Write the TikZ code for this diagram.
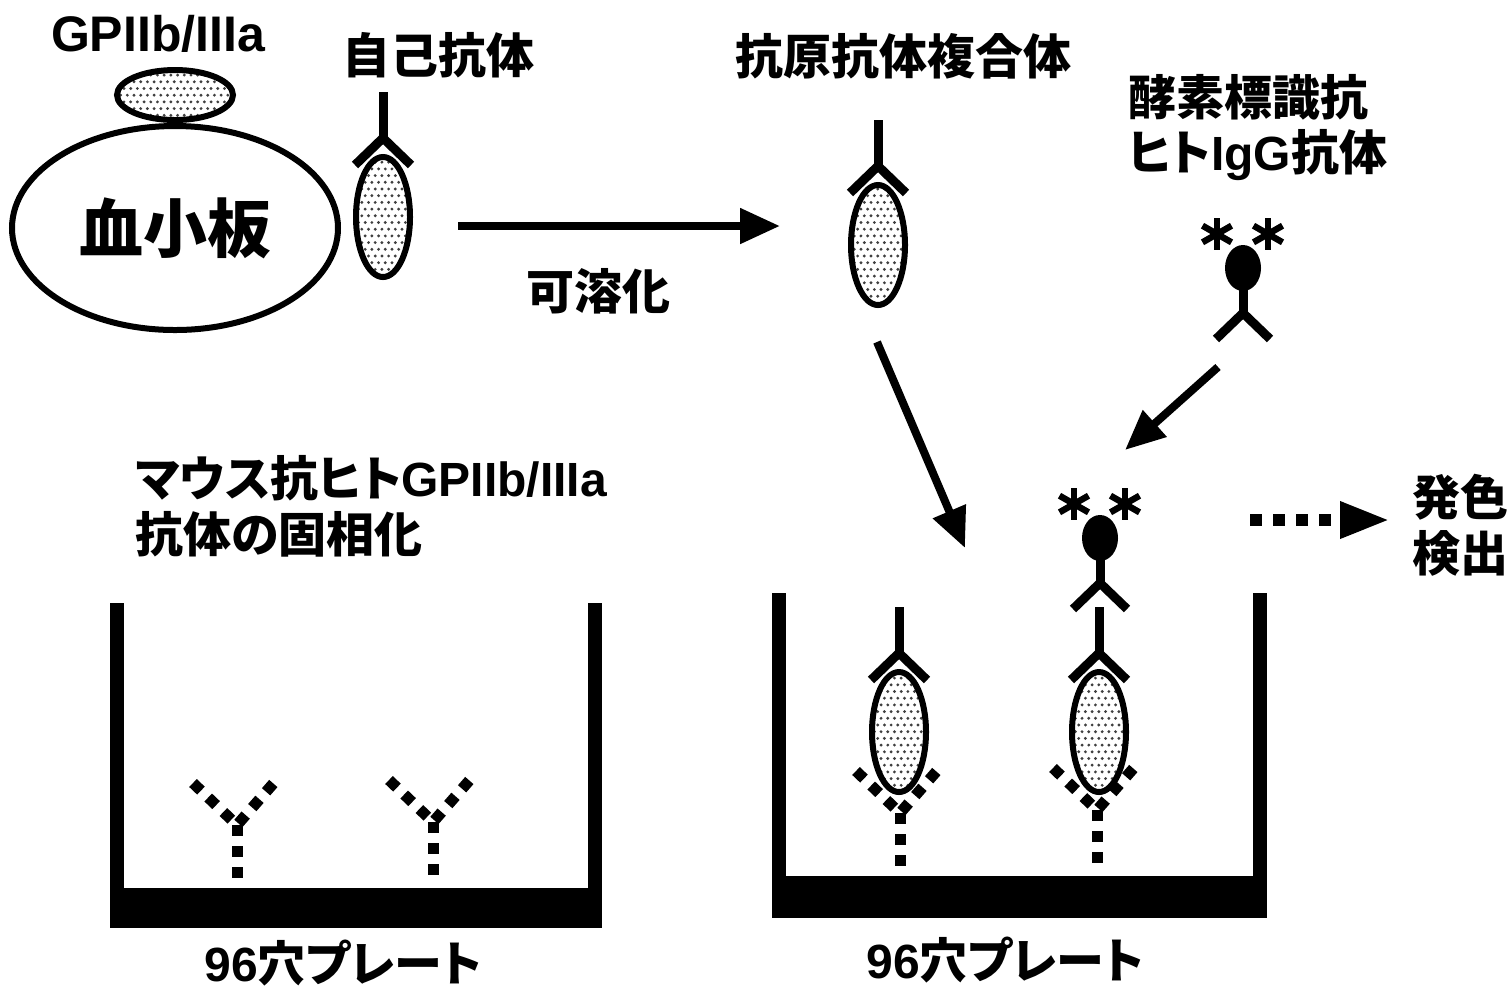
\documentclass[tikz,border=0pt]{standalone}
\usepackage{fontspec}
\setmainfont{Liberation Sans}
\newfontfamily\cjk{Noto Sans CJK JP}[RawFeature=+palt]
\usetikzlibrary{arrows.meta,patterns,patterns.meta,shapes.geometric}

% fine staggered dot screen for antigen fill
\tikzdeclarepattern{
  name=stipple dots,
  type=uncolored,
  bottom left={(-1pt,-1pt)},
  top right={(2.6pt,5.7pt)},
  tile size={(3.35pt,6.7pt)},
  code={
    \fill (0pt,0pt) circle (0.8pt);
    \fill (1.675pt,3.35pt) circle (0.8pt);
  }
}

\begin{document}
\begin{tikzpicture}[x=0.5pt,y=-0.5pt,
  lbl/.style={font=\bfseries\fontsize{24}{28}\selectfont, inner sep=0pt},
  stipple/.style={draw, line width=3pt, preaction={fill=white},
                  pattern=stipple dots, pattern color=black!75},
  abline/.style={line width=4.5pt, line cap=butt, line join=miter},
  dotab/.style={line width=5.5pt, line cap=butt, dash pattern=on 5.5pt off 5pt},
  bigarrow/.style={line width=4pt, -{Triangle[length=20pt,width=17pt]}},
  dotarrow/.style={line width=6pt, dash pattern=on 6pt off 5.5pt,
                   -{Triangle[length=25pt,width=17pt]}},
  starline/.style={line width=3.2pt, line cap=butt},
  % antigen with bound antibody, origin at antigen centre
  complex/.pic={
    \draw[stipple] (0,0) ellipse [x radius=27, y radius=60];
    \draw[abline] (0,-125) -- (0,-79);
    \draw[abline] (-28,-52) -- (0,-79) -- (28,-52);
  },
  % six-armed asterisk
  star6/.pic={
    \draw[starline] (0,-16) -- (0,16);
    \draw[starline] (-14.5,-8.3) -- (14.5,8.3);
    \draw[starline] (-14.5,8.3) -- (14.5,-8.3);
  },
  % enzyme-labelled antibody, origin at the enzyme head
  enzab/.pic={
    \fill (0,0) ellipse [x radius=18, y radius=23];
    \draw[abline] (0,18) -- (0,45);
    \draw[abline] (-27,71) -- (0,45) -- (27,71);
    \pic at (-26,-34) {star6};
    \pic at (25,-34) {star6};
  },
  % immobilised capture antibody, origin at the hinge
  capab/.pic={
    \draw[dotab] (-44,-42) -- (0,0) -- (42,-48);
    \draw[dotab] (0,0) -- (0,62);
  }
]
\useasboundingbox (0,0) rectangle (1508,993);

% ---- platelet with GPIIb/IIIa ----
\node[ellipse, draw, line width=3pt, minimum width=163pt, minimum height=102pt,
      inner sep=0pt] (plt) at (175,228)
      {\cjk\bfseries\fontsize{32}{36}\selectfont 血小板};
\node[ellipse, stipple, minimum width=58pt, minimum height=25pt, inner sep=0pt]
      (gp) at (175,95) {};
\node[lbl] (gptxt) at (158,34) {\fontsize{25}{28}\selectfont GPIIb/IIIa};

% ---- autoantibody bound to platelet ----
\pic at (383,217) {complex};
\node[lbl] (auto) at (438,55) {\cjk 自己抗体};

% ---- solubilisation ----
\coordinate (solA) at (458,226);
\coordinate (solB) at (780,226);
\draw[bigarrow] (solA) -- (solB);
\node[lbl] (sol) at (598,291) {\cjk 可溶化};

% ---- soluble immune complex ----
\pic at (878,245) {complex};
\node[lbl] (cplx) at (903,56) {\cjk 抗原抗体複合体};

% ---- enzyme-labelled anti-human IgG ----
\node[lbl, anchor=west] (enz1) at (1128,97) {\cjk 酵素標識抗};
\node[lbl, anchor=west] (enz2) at (1128,155) {{\cjk ヒト}IgG{\cjk 抗体}};
\pic at (1243,268) {enzab};

% ---- arrows into the well ----
\coordinate (cxA) at (877,342);
\coordinate (cxB) at (965,548);
\draw[bigarrow] (cxA) -- (cxB);
\coordinate (enA) at (1218,367);
\coordinate (enB) at (1125,450);
\draw[bigarrow] (enA) -- (enB);

% ---- coated plate ----
\node[lbl, anchor=west] (ms1) at (135,478) {{\cjk マウス抗ヒト}GPIIb/IIIa};
\node[lbl, anchor=west] (ms2) at (135,534) {\cjk 抗体の固相化};
\fill (110,603) rectangle (124,928);
\fill (588,603) rectangle (602,928);
\fill (110,888) rectangle (602,928);
\pic at (237,825) {capab};
\pic at (433,822) {capab};
\node[lbl] (plateA) at (343,963) {96{\cjk 穴プレート}};

% ---- plate after capture ----
\fill (772,593) rectangle (786,918);
\fill (1253,593) rectangle (1267,918);
\fill (772,876) rectangle (1267,918);
\pic at (900,813) {capab};
\pic at (1097,810) {capab};
\pic at (899,732) {complex};
\pic at (1099,732) {complex};
\pic at (1100,538) {enzab};
\node[lbl] (plateB) at (1005,960) {96{\cjk 穴プレート}};

% ---- colour development ----
\coordinate (detA) at (1250,520);
\coordinate (detB) at (1390,520);
\draw[dotarrow] (detA) -- (detB);
\node[lbl, anchor=west] (det1) at (1412,497) {\cjk 発色};
\node[lbl, anchor=west] (det2) at (1412,553) {\cjk 検出};
\end{tikzpicture}
\end{document}
